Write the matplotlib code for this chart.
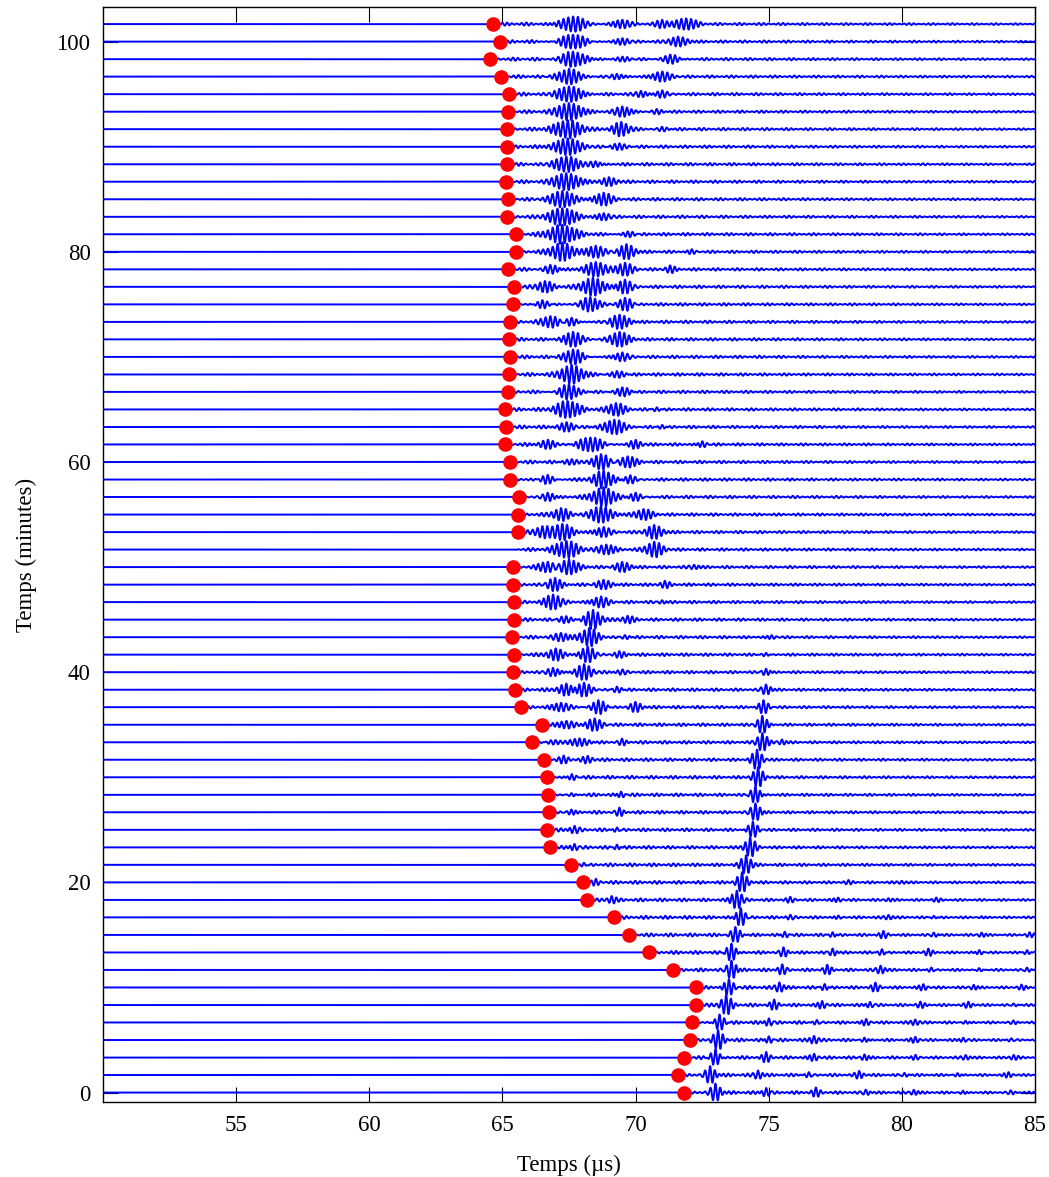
import numpy as np
import matplotlib
matplotlib.use("Agg")
import matplotlib.pyplot as plt

plt.rcParams['font.family'] = ['Liberation Serif', 'DejaVu Serif']

# acquisition time of each trace (minutes), bottom to top
minutes = [0.00, 1.67, 3.33, 5.00, 6.67, 8.33, 10.00, 11.67, 13.33, 15.00,
           16.67, 18.33, 20.00, 21.67, 23.33, 25.00, 26.67, 28.33, 30.00, 31.67,
           33.33, 35.00, 36.67, 38.33, 40.00, 41.67, 43.33, 45.00, 46.67, 48.33,
           50.00, 51.67, 53.33, 55.00, 56.67, 58.33, 60.00, 61.67, 63.33, 65.00,
           66.67, 68.33, 70.00, 71.67, 73.33, 75.00, 76.67, 78.33, 80.00, 81.67,
           83.33, 85.00, 86.67, 88.33, 90.00, 91.67, 93.33, 95.00, 96.67, 98.33,
           100.00, 101.67]

# picked first arrival (us), red dots ; nan = no pick
picks = [71.82, 71.60, 71.83, 72.06, 72.13, 72.28, 72.25, 71.41, 70.50, 69.75,
         69.18, 68.18, 68.03, 67.58, 66.78, 66.68, 66.76, 66.72, 66.68, 66.57,
         66.10, 66.47, 65.68, 65.47, 65.40, 65.42, 65.35, 65.45, 65.45, 65.39,
         65.39, np.nan, 65.57, 65.57, 65.64, 65.29, 65.29, 65.09, 65.14, 65.11,
         65.20, 65.24, 65.29, 65.26, 65.30, 65.39, 65.45, 65.22, 65.49, 65.51,
         65.17, 65.22, 65.14, 65.16, 65.16, 65.16, 65.22, 65.26, 64.95, 64.55,
         64.91, 64.63]
unpicked_start = 65.4  # trace without pick still starts here

# wave packets seen on each trace : (centre us, amplitude min, width us)
packets = [
    [(73.00, .85, .16), (74.90, .45, .12), (76.77, .35, .12), (78.65, .30, .12), (80.45, .25, .12), (82.3, .25, .12), (84.1, .22, .12)],
    [(72.80, .85, .16), (74.60, .40, .12), (76.50, .35, .12), (78.40, .30, .12), (80.10, .25, .12), (82.1, .25, .12), (84.0, .22, .12)],
    [(73.00, .85, .16), (74.90, .40, .12), (76.70, .32, .12), (78.60, .30, .12), (80.50, .25, .12), (82.4, .22, .12), (84.2, .20, .12)],
    [(73.10, .85, .16), (75.00, .40, .12), (76.70, .35, .12), (78.60, .30, .12), (80.50, .25, .12), (82.3, .22, .12), (84.1, .20, .12)],
    [(73.15, .85, .16), (75.00, .40, .12), (76.80, .32, .12), (78.65, .30, .12), (80.50, .25, .12), (82.4, .22, .12), (84.2, .20, .12)],
    [(73.40, .85, .16), (75.20, .40, .12), (77.00, .35, .12), (78.80, .30, .12), (80.70, .25, .12), (82.5, .22, .12), (84.2, .20, .12)],
    [(73.50, .85, .16), (75.40, .45, .12), (77.10, .38, .12), (79.00, .35, .12), (80.80, .28, .12), (82.7, .25, .12), (84.5, .22, .12)],
    [(73.60, .90, .16), (75.50, .50, .12), (77.20, .40, .12), (79.20, .38, .12), (81.10, .30, .12), (82.9, .28, .12), (84.7, .25, .12)],
    [(73.60, .90, .16), (75.56, .45, .12), (77.40, .40, .12), (79.25, .38, .12), (81.00, .30, .12), (82.9, .28, .12), (84.7, .25, .12)],
    [(73.75, .85, .16), (75.60, .35, .12), (77.40, .30, .12), (79.30, .28, .12), (81.20, .25, .12), (83.0, .22, .12), (84.8, .20, .12)],
    [(73.95, .90, .16), (75.80, .22, .12), (77.60, .20, .12), (79.50, .20, .12), (81.20, .18, .12), (83.0, .15, .12)],
    [(69.10, .30, .12), (73.80, .85, .16), (75.80, .20, .12), (77.60, .20, .12), (79.50, .15, .12), (81.3, .15, .12)],
    [(68.50, .25, .12), (74.00, .85, .16), (78.00, .12, .12), (80.00, .12, .12)],
    [(68.06, .30, .12), (74.15, .85, .16)],
    [(67.70, .35, .15), (69.30, .30, .12), (74.30, .85, .16)],
    [(67.70, .35, .15), (69.30, .30, .12), (74.40, .85, .16)],
    [(67.60, .30, .15), (69.40, .40, .12), (74.50, .85, .16)],
    [(67.60, .30, .15), (69.45, .35, .12), (74.50, .85, .16)],
    [(67.60, .40, .15), (74.60, .85, .16)],
    [(67.30, .25, .15), (68.20, .25, .15), (74.56, .85, .16)],
    [(67.00, .35, .25), (67.90, .50, .30), (69.50, .30, .12), (74.76, .85, .16), (75.5, .25, .12)],
    [(67.40, .35, .25), (68.46, .70, .25), (74.76, .85, .16)],
    [(67.20, .40, .25), (68.60, .75, .25), (70.00, .45, .18), (74.80, .75, .16)],
    [(67.40, .45, .25), (68.06, .75, .25), (69.30, .35, .18), (74.90, .50, .15)],
    [(66.90, .45, .25), (68.06, .75, .25), (69.50, .30, .18), (74.90, .35, .15)],
    [(67.00, .45, .25), (68.20, .80, .25), (69.40, .30, .18), (74.90, .25, .15)],
    [(67.20, .40, .25), (68.26, .80, .25), (69.60, .25, .18), (75.10, .20, .15)],
    [(67.40, .45, .25), (68.40, .80, .25), (69.70, .30, .18)],
    [(66.90, .70, .25), (68.70, .55, .25), (71.00, .20, .15)],
    [(66.98, .70, .25), (68.80, .55, .25), (71.10, .25, .15)],
    [(66.70, .50, .25), (67.50, .75, .35), (69.50, .55, .25), (72.20, .20, .15)],
    [(67.40, .75, .35), (68.90, .45, .25), (70.70, .65, .25)],
    [(66.50, .45, .25), (67.25, .75, .30), (68.80, .50, .25), (70.70, .60, .25)],
    [(67.20, .50, .25), (68.70, .80, .35), (70.30, .45, .25)],
    [(66.70, .45, .25), (68.80, .80, .35), (70.00, .45, .25)],
    [(66.70, .50, .25), (68.80, .75, .30), (69.80, .45, .25)],
    [(67.60, .40, .25), (68.70, .80, .30), (69.70, .50, .25)],
    [(66.70, .45, .25), (68.30, .80, .40), (70.00, .35, .18), (72.50, .35, .15)],
    [(67.40, .50, .25), (69.20, .75, .40), (71.00, .25, .15)],
    [(67.45, .75, .35), (69.26, .55, .25), (70.80, .25, .15)],
    [(67.50, .80, .35), (69.50, .55, .25)],
    [(67.60, .80, .35), (69.30, .45, .25)],
    [(67.65, .80, .35), (69.50, .45, .25)],
    [(67.65, .75, .35), (69.40, .70, .30)],
    [(66.80, .50, .25), (67.60, .45, .25), (69.40, .75, .30)],
    [(66.50, .45, .25), (68.30, .75, .35), (69.60, .70, .25)],
    [(66.60, .50, .25), (68.40, .75, .35), (69.60, .70, .25)],
    [(66.80, .50, .25), (68.50, .70, .35), (69.60, .60, .25), (71.30, .30, .15)],
    [(67.25, .75, .35), (68.50, .55, .25), (69.66, .70, .25), (72.10, .30, .15)],
    [(67.25, .80, .42), (69.70, .35, .25)],
    [(67.25, .80, .42), (68.80, .35, .25)],
    [(67.25, .80, .42), (68.80, .60, .25)],
    [(67.40, .80, .42), (69.00, .30, .25)],
    [(67.40, .80, .42), (68.50, .30, .25)],
    [(67.45, .80, .42), (69.40, .45, .25)],
    [(67.45, .80, .42), (69.46, .60, .25), (71.00, .30, .18)],
    [(67.50, .80, .42), (69.50, .50, .25), (70.80, .35, .18)],
    [(67.50, .80, .42), (70.20, .30, .18), (71.00, .40, .25)],
    [(67.50, .80, .42), (69.30, .30, .25), (71.00, .50, .30)],
    [(67.65, .80, .42), (69.50, .35, .25), (71.30, .50, .30)],
    [(67.65, .80, .42), (69.50, .35, .25), (71.60, .45, .30)],
    [(67.65, .80, .42), (69.50, .40, .25), (71.00, .35, .18), (71.90, .50, .30)],
]

freq = 5.5        # MHz, carrier of the wavelets
coda_amp = 0.16   # small ringing after first arrival

t = np.arange(50.0, 85.005, 0.005)

fig = plt.figure(figsize=(10.49, 11.77), dpi=100)
ax = fig.add_axes([0.0982, 0.0637, 0.8885, 0.9304])

for i in range(len(minutes)):
    start = picks[i] if not np.isnan(picks[i]) else unpicked_start
    dt = t - start
    ramp = np.clip(dt / 0.4, 0, 1)
    sig = coda_amp * ramp * np.exp(-np.clip(dt, 0, None) / 30.0) \
        * (0.65 + 0.35 * np.cos(2 * np.pi * t / 0.8 + 1.3 * i)) \
        * np.sin(2 * np.pi * freq * t + 0.7 * i)
    for (tc, a, w) in packets[i]:
        sig += a * np.exp(-0.5 * ((t - tc) / w) ** 2) * np.sin(2 * np.pi * freq * (t - tc) + np.pi / 2)
    sig[dt < 0] = 0
    ax.plot(t, minutes[i] + sig, color=(0, 0, 1), lw=1.4, zorder=3)

ax.plot(picks, minutes, 'o', color=(1, 0, 0), ms=10.5, mec='none', zorder=4)

ax.set_xlim(50, 85)
ax.set_ylim(-0.9, 103.3)
ax.set_xticks([55, 60, 65, 70, 75, 80, 85])
ax.set_yticks([0, 20, 40, 60, 80, 100])
ax.tick_params(direction='in', length=10.5, width=0.8, top=True, right=True,
               labelsize=16.5, colors='black', pad=9)
for s in ax.spines.values():
    s.set_linewidth(1.0)
ax.set_xlabel('Temps (µs)', fontsize=16.5, labelpad=14)
ax.set_ylabel('Temps (minutes)', fontsize=16.5, labelpad=14)

fig.savefig('out.png', dpi=100)
